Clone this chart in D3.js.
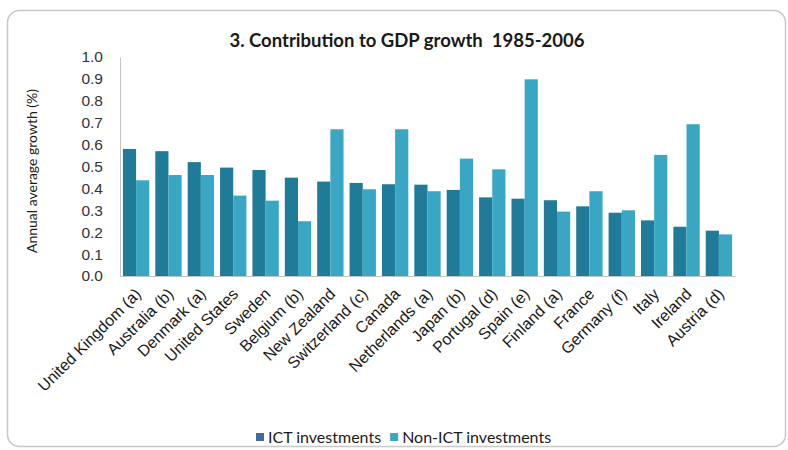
<!DOCTYPE html>
<html>
<head>
<meta charset="utf-8">
<script src="https://cdn.jsdelivr.net/npm/d3@7"></script>
<style>
  body { margin: 0; background: #ffffff; }
  svg { display: block; font-family: Lato, "Open Sans", sans-serif; }
</style>
</head>
<body>
<div id="chart"></div>
<script>
// Data
const countries = [
  'United Kingdom (a)', 'Australia (b)', 'Denmark (a)', 'United States', 'Sweden',
  'Belgium (b)', 'New Zealand', 'Switzerland (c)', 'Canada', 'Netherlands (a)',
  'Japan (b)', 'Portugal (d)', 'Spain (e)', 'Finland (a)', 'France',
  'Germany (f)', 'Italy', 'Ireland', 'Austria (d)'
];
const ictValues = [0.58, 0.57, 0.52, 0.495, 0.484, 0.449, 0.431, 0.425, 0.419, 0.417,
  0.393, 0.359, 0.353, 0.346, 0.318, 0.289, 0.254, 0.225, 0.207];
const nonIctValues = [0.437, 0.461, 0.461, 0.367, 0.344, 0.25, 0.67, 0.396, 0.67, 0.387,
  0.536, 0.487, 0.898, 0.294, 0.387, 0.30, 0.553, 0.693, 0.19];
const seriesNames = ['ICT investments', 'Non-ICT investments'];
const yTicks = [0, 0.1, 0.2, 0.3, 0.4, 0.5, 0.6, 0.7, 0.8, 0.9, 1.0];

const W = 788, H = 450;
const margin = { left: 120, right: 53, top: 57, bottom: 174 };
const barColours = ['#1f7b98', '#39a6c3'];
const legendColours = ['#3d6da3', '#39a6c3'];

const svg = d3.select('#chart').append('svg')
  .attr('width', W)
  .attr('height', H);

// Outer rounded frame
svg.append('rect')
  .attr('x', 7.5).attr('y', 10.5)
  .attr('width', 778).attr('height', 436)
  .attr('rx', 12)
  .attr('fill', '#ffffff')
  .attr('stroke', '#c8c8c8')
  .attr('stroke-width', 1.5);

svg.append('text')
  .attr('x', 407).attr('y', 47)
  .attr('text-anchor', 'middle')
  .attr('font-size', 18.5)
  .attr('font-weight', 'bold')
  .attr('fill', '#1a1a1a')
  .style('white-space', 'pre')
  .text('3. Contribution to GDP growth  1985-2006');

const x = d3.scaleBand()
  .domain(countries)
  .range([margin.left, W - margin.right])
  .paddingInner(0.186)
  .paddingOuter(0.09);

const xSub = d3.scaleBand()
  .domain([0, 1])
  .range([0, x.bandwidth()]);

const y = d3.scaleLinear()
  .domain([0, 1])
  .range([H - margin.bottom, margin.top]);

// Bars
const groups = svg.append('g').selectAll('g')
  .data(countries)
  .join('g')
  .attr('transform', d => `translate(${x(d)},0)`);

groups.selectAll('rect')
  .data((d, i) => [ictValues[i], nonIctValues[i]])
  .join('rect')
  .attr('x', (d, j) => xSub(j))
  .attr('y', d => y(d))
  .attr('width', xSub.bandwidth())
  .attr('height', d => y(0) - y(d))
  .attr('fill', (d, j) => barColours[j]);

// Y axis
const yAxis = svg.append('g')
  .attr('transform', `translate(${margin.left},0)`)
  .call(d3.axisLeft(y).tickValues(yTicks).tickFormat(d3.format('.1f')).tickSize(0).tickPadding(17));
yAxis.select('.domain').attr('stroke', '#c4c4c4');
yAxis.selectAll('text')
  .attr('font-size', 15.5)
  .attr('fill', '#333');

// X axis
const xAxis = svg.append('g')
  .attr('transform', `translate(0,${y(0)})`)
  .call(d3.axisBottom(x).tickSize(0).tickPadding(0));
xAxis.select('.domain').attr('stroke', '#c4c4c4');
xAxis.selectAll('text')
  .attr('font-size', 16)
  .attr('fill', '#1a1a1a')
  .attr('text-anchor', 'end')
  .attr('dy', 0)
  .attr('transform', 'translate(6,19) rotate(-45)');

// Y axis title
svg.append('text')
  .attr('transform', 'translate(37,171) rotate(-90)')
  .attr('text-anchor', 'middle')
  .attr('font-size', 14)
  .attr('fill', '#1a1a1a')
  .text('Annual average growth (%)');

// Legend
const legend = svg.append('g').attr('transform', 'translate(256,438)');
let lx = 0;
seriesNames.forEach((name, i) => {
  legend.append('rect')
    .attr('x', lx).attr('y', -5)
    .attr('width', 8).attr('height', 8)
    .attr('fill', legendColours[i]);
  const t = legend.append('text')
    .attr('x', lx + 12).attr('y', 5)
    .attr('font-size', 16)
    .attr('fill', '#1a1a1a')
    .text(name);
  lx += 12 + t.node().getBBox().width + 9;
});
</script>
</body>
</html>
